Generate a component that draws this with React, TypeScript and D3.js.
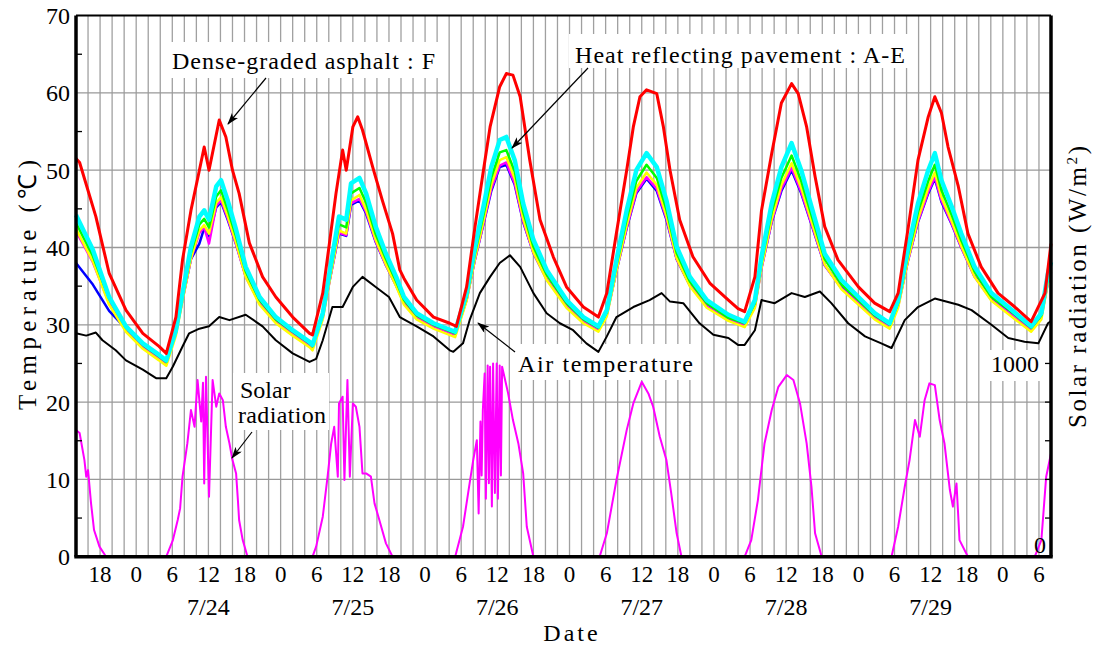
import React from "react";
import * as d3 from "d3";

const width = 1096;
const height = 645;
const plot = { left: 76, right: 1051, top: 15.6, bottom: 556.7 };

// hours counted from 7/23 0:00
const hourStart = 14;
const hourEnd = 176;
const hourTicks = [18, 24, 30, 36, 42, 48, 54, 60, 66, 72, 78, 84, 90, 96, 102, 108, 114, 120, 126, 132, 138, 144, 150, 156, 162, 168, 174];
const dayNoons = [36, 60, 84, 108, 132, 156];
const dayLabels = ["7/24", "7/25", "7/26", "7/27", "7/28", "7/29"];
const tempTicks = [0, 10, 20, 30, 40, 50, 60, 70];
const tempMinor = [5, 15, 25, 35, 45, 55, 65];
const solarTicks = [200, 400, 600, 800, 1000];

// Dense-graded asphalt : F  [hour, degC]
const asphaltF: [number, number][] = [
  [14, 51.5], [14.6, 51.0], [17.3, 44], [19.5, 36.7], [22.3, 31.9], [25.1, 28.9], [27.8, 27.2], [29, 26.3],
  [30.6, 31], [31.7, 38.4], [33.1, 44.8], [34.5, 50], [35.3, 53], [36.1, 50], [37.8, 56.5], [38.9, 54.3],
  [40, 50], [41.1, 47], [42.8, 40.6], [45, 36.2], [47.2, 33.6], [50, 31], [52.8, 28.9], [53.3, 28.7],
  [55, 34.1], [56.1, 40.5], [57.2, 47], [58.3, 52.6], [58.9, 50], [60, 55.6], [60.8, 56.9], [61.6, 55.2],
  [63.3, 50.4], [64.9, 46.1], [66.6, 41.8], [67.8, 37.1], [68.5, 36], [70.6, 33.2], [73.4, 31], [76.1, 30.2],
  [77.2, 29.8], [78.9, 34.9], [80.3, 42.7], [81.7, 50], [82.8, 55.6], [84.4, 60.8], [85.5, 62.5], [86.6, 62.3],
  [87.8, 59.5], [89.4, 51.3], [91.1, 43.6], [93.3, 38.8], [95.5, 34.9], [98.3, 32.3], [100.8, 31], [102.2, 34.1],
  [103.8, 41.9], [105.5, 50], [106.6, 55.6], [107.7, 59.5], [108.8, 60.4], [110.5, 59.9], [111.6, 55.6], [112.7, 50],
  [114.3, 43.6], [116.5, 38.8], [119.3, 35.4], [122.4, 33.2], [124, 32.1], [125.1, 31.7], [126.8, 36.2], [127.9, 44.8],
  [129.6, 52.2], [131.2, 58.7], [132.9, 61.2], [134, 59.9], [135.4, 55.6], [136.8, 49.2], [138.4, 42.7], [140.6, 38.4],
  [144, 34.9], [146.7, 32.8], [149.2, 31.7], [150.6, 34.1], [152.3, 42.7], [153.9, 51.3], [155.6, 56.9], [156.7, 59.5],
  [157.8, 57.4], [158.9, 53], [160.6, 47.9], [162.2, 41.8], [164.4, 37.5], [167.2, 34.1], [170, 32.3], [172.7, 30.4],
  [175, 34.1], [176, 40.5],
];

// Heat reflecting pavement : A-E, shared hours
const bandHours = [
  14, 16.8, 19.5, 22.3, 25.1, 27.8, 29, 30.6, 31.7, 33.1, 34.5, 35.3, 36.1, 37.3, 38.1, 39.2, 40.6, 42.2, 44.5, 47.2,
  50, 52.8, 53.3, 55, 56.1, 57.7, 58.9, 59.7, 61.1, 62.2, 63.8, 65.5, 67.2, 68.5, 70.6, 73.4, 77, 78.9, 80.3, 81.7,
  83, 84.4, 85.5, 86.9, 88.3, 90, 92.2, 95.5, 98.3, 100.8, 102.2, 103.8, 105.5, 107.1, 108.8, 110.5, 112.1, 113.8, 116, 118.8,
  122.4, 125.1, 126.8, 127.9, 129.6, 131.2, 132.9, 134.5, 136.2, 138.4, 141.2, 144, 146.7, 149.2, 150.6, 152.3, 153.9, 155.6, 156.7, 157.8,
  159.5, 161.1, 163.3, 166.1, 168.9, 172.7, 174.4, 175.5, 176,
];
const bandCyan = [
  44.2, 39.7, 33.6, 29.8, 27.6, 26.1, 25.4, 29.3, 34.1, 40.1, 44, 44.8, 43.6, 47.9, 48.7, 46.1, 42.3, 37.5, 33.6, 31,
  29.3, 27.8, 27.4, 31.5, 36.7, 44, 43.6, 48.3, 49, 47, 42.7, 39.2, 36.2, 33.6, 31.5, 30.2, 29.1, 34.1, 40.1, 45.3,
  50.4, 53.9, 54.3, 51.3, 45.7, 41, 37.1, 33.2, 31, 29.8, 31.9, 38.4, 44.8, 50, 52.2, 50.4, 46.1, 40.1, 36.2, 33.2,
  31.3, 30.4, 33.2, 38.8, 45.7, 50.4, 53.5, 50, 45.3, 39.2, 35.8, 33.6, 31.5, 30.2, 33.2, 40.1, 45.7, 50, 52.2, 48.7,
  45.3, 41.8, 37.5, 34.1, 32.3, 29.8, 31.5, 36.7, 38.1,
];
const bandGreen = [
  43.2, 38.9, 33.4, 29.6, 27.4, 25.9, 25.2, 29.1, 33.6, 39.3, 43.0, 43.7, 42.6, 46.6, 47.4, 44.9, 41.4, 36.9, 33.2, 30.7,
  29.1, 27.6, 27.2, 31.2, 36.1, 43.0, 42.6, 47.0, 47.7, 45.8, 41.7, 38.5, 35.6, 33.2, 31.2, 30.0, 28.9, 33.6, 39.3, 44.2,
  49.0, 52.3, 52.6, 49.8, 44.6, 40.1, 36.5, 32.8, 30.7, 29.6, 31.6, 37.7, 43.7, 48.6, 50.7, 49.0, 44.9, 39.3, 35.6, 32.8,
  30.9, 30.2, 32.8, 38.1, 44.6, 49.0, 51.9, 48.6, 44.2, 38.5, 35.2, 33.2, 31.2, 30.0, 32.8, 39.3, 44.6, 48.6, 50.7, 47.4,
  44.2, 40.9, 36.9, 33.6, 32.0, 29.6, 31.2, 36.1, 37.4,
];
const bandYellow = [
  42.4, 38.2, 32.6, 29.1, 26.9, 25.4, 24.7, 28.6, 33.1, 38.6, 42.2, 42.9, 41.8, 45.8, 46.5, 44.1, 40.6, 36.2, 32.6, 30.2,
  28.6, 27.1, 26.7, 30.7, 35.5, 42.2, 41.8, 46.1, 46.8, 44.9, 41.0, 37.8, 35.0, 32.6, 30.7, 29.5, 28.4, 33.1, 38.6, 43.4,
  48.1, 51.3, 51.7, 48.9, 43.7, 39.4, 35.8, 32.2, 30.2, 29.1, 31.1, 37.0, 42.9, 47.7, 49.7, 48.1, 44.1, 38.6, 35.0, 32.2,
  30.5, 29.7, 32.2, 37.4, 43.7, 48.1, 50.9, 47.7, 43.4, 37.8, 34.6, 32.6, 30.7, 29.5, 32.2, 38.6, 43.7, 47.7, 49.7, 46.5,
  43.4, 40.2, 36.2, 33.1, 31.4, 29.1, 30.7, 35.5, 36.8,
];
const bandMagenta = [
  42.1, 38.1, 32.8, 29.4, 27.2, 25.7, 25.0, 28.9, 33.2, 38.5, 41.9, 42.6, 40.5, 45.4, 46.1, 43.8, 40.4, 36.2, 32.8, 30.5,
  28.9, 27.4, 27.0, 30.9, 35.5, 41.9, 41.6, 45.7, 46.3, 44.6, 40.8, 37.7, 35.1, 32.8, 31.0, 29.8, 28.7, 33.2, 38.5, 43.1,
  47.6, 50.6, 51.0, 48.3, 43.4, 39.3, 35.9, 32.4, 30.5, 29.4, 31.3, 37.0, 42.6, 47.2, 49.1, 47.6, 43.8, 38.5, 35.1, 32.4,
  30.7, 30.0, 32.4, 37.3, 43.4, 47.6, 50.3, 47.2, 43.1, 37.7, 34.7, 32.8, 31.0, 29.8, 32.4, 38.5, 43.4, 47.2, 49.1, 46.1,
  43.1, 40.0, 36.2, 33.2, 31.6, 29.4, 31.0, 35.5, 36.7,
];
const bandBlue = [
  38.0, 35.2, 31.8, 29.5, 27.4, 25.9, 25.2, 29.1, 33.3, 38.5, 40.5, 42.5, 41.5, 45.2, 45.9, 43.6, 40.4, 36.3, 32.9, 30.7,
  29.1, 27.6, 27.2, 31.1, 35.6, 41.8, 41.5, 45.5, 46.1, 44.4, 40.7, 37.7, 35.1, 32.9, 31.2, 30.0, 28.9, 33.3, 38.5, 43.0,
  47.3, 50.4, 50.7, 48.1, 43.3, 39.3, 35.9, 32.6, 30.7, 29.6, 31.4, 37.0, 42.5, 47.0, 48.9, 47.3, 43.6, 38.5, 35.1, 32.6,
  30.9, 30.2, 32.6, 37.4, 43.3, 47.3, 50.0, 47.0, 43.0, 37.7, 34.8, 32.9, 31.2, 30.0, 32.6, 38.5, 43.3, 47.0, 48.9, 45.9,
  43.0, 40.0, 36.3, 33.3, 31.9, 29.6, 31.2, 35.6, 36.8,
];

// Air temperature [hour, degC]
const airTemp: [number, number][] = [
  [14, 28.9], [15.7, 28.6], [17.3, 29], [18.4, 28], [20.6, 26.7], [22.3, 25.4], [25.1, 24.2], [27.3, 23.1],
  [29, 23.1], [30.1, 24.6], [31.7, 27.2], [32.8, 28.9], [34.5, 29.5], [36.1, 29.8], [37.8, 31], [39.5, 30.6],
  [42.2, 31.3], [45, 29.8], [47.2, 28], [50, 26.3], [52.8, 25.2], [53.9, 25.6], [55, 28], [56.6, 32.3],
  [58.3, 32.3], [60, 34.9], [61.6, 36.2], [63.8, 34.9], [66, 33.6], [67.8, 31], [70.6, 29.8], [73.4, 28.5],
  [76.1, 26.7], [76.7, 26.5], [78.3, 27.6], [79.4, 30.6], [81.1, 34.1], [82.8, 36.2], [84.4, 38], [86.1, 39],
  [87.8, 37.5], [90, 34.1], [92.2, 31.5], [94.4, 30.2], [96.6, 29.3], [98.8, 27.6], [100.8, 26.5], [102.2, 28.5],
  [103.8, 31], [106.6, 32.3], [109.3, 33.2], [111.3, 34.1], [112.7, 33], [114.9, 32.8], [117.6, 30.2], [119.9, 28.7],
  [122.4, 28.3], [124, 27.4], [125.1, 27.4], [126.8, 29.3], [127.9, 33.2], [130.1, 32.8], [132.9, 34.1], [135.1, 33.6],
  [137.6, 34.3], [139.5, 32.8], [142.3, 30.2], [145.1, 28.5], [147.8, 27.6], [149.5, 27], [151.7, 30.6], [153.9, 32.3],
  [156.7, 33.4], [160.6, 32.6], [162.8, 31.9], [166.1, 30], [168.9, 28.3], [171.6, 27.8], [173.9, 27.6], [175.5, 30.2],
  [176, 30.5],
];

// Solar radiation [hour, W/m2]
const solar: [number, number][] = [
  [14, 655], [14.6, 640], [15.4, 500], [15.7, 414], [16, 448], [16.5, 276], [17, 138], [17.9, 52], [19, 0],
  [29, 0], [30.1, 86], [30.9, 190], [31.3, 250], [31.7, 414], [32.5, 586], [33.1, 759], [33.7, 672], [34.2, 914],
  [34.8, 700], [35.1, 900], [35.3, 379], [35.6, 931], [36.1, 310], [36.7, 914], [37.3, 776], [37.8, 845], [38.4, 810],
  [38.9, 672], [39.5, 586], [40, 500], [40.6, 431], [40.9, 293], [41.1, 190], [41.7, 86], [42.5, 0],
  [53.3, 0], [53.9, 52], [55, 207], [55.8, 414], [56.4, 586], [56.9, 672], [57.5, 414], [57.7, 793], [58.3, 828],
  [58.6, 397], [59.1, 914], [59.5, 414], [60, 793], [60.5, 776], [61.1, 672], [61.6, 431], [62.2, 431], [63, 414],
  [63.6, 276], [64.4, 190], [65.5, 69], [66.6, 0],
  [77, 0], [78.3, 155], [79.4, 379], [80, 500], [80.6, 603], [80.9, 224], [81.2, 700], [81.4, 420], [81.6, 759],
  [81.9, 948], [82.1, 300], [82.4, 990], [82.6, 380], [82.8, 983], [83.1, 260], [83.3, 1000], [83.6, 330], [83.9, 1000],
  [84.1, 300], [84.4, 990], [84.6, 420], [84.8, 983], [85.3, 914], [85.8, 845], [86.6, 707], [87.5, 586], [88.3, 431],
  [88.9, 155], [90, 0],
  [101, 0], [102.2, 121], [103.8, 397], [105.5, 655], [106.6, 793], [108, 905], [109.1, 845], [109.9, 776], [111, 621],
  [112.1, 500], [112.9, 328], [113.8, 121], [114.6, 0],
  [125.1, 0], [126.2, 86], [127.3, 293], [128.4, 586], [129.6, 759], [130.7, 879], [132.1, 940], [133.2, 914], [134.3, 793],
  [135.4, 586], [136.2, 362], [136.8, 121], [137.9, 0],
  [149.5, 0], [150.6, 155], [151.7, 362], [152.5, 500], [153.4, 707], [154.2, 621], [155, 810], [155.8, 897], [156.7, 888],
  [157.5, 707], [158.3, 586], [159.2, 345], [159.7, 259], [160.3, 379], [160.8, 86], [162.2, 0],
  [173.3, 0], [174.4, 86], [175.2, 414], [176, 534],
];

const serif = "'Liberation Serif', 'Times New Roman', serif";

const App = () => {
  const x = d3.scaleLinear().domain([hourStart, hourEnd]).range([plot.left, plot.right]);
  const y = d3.scaleLinear().domain([0, 70]).range([plot.bottom, plot.top]);
  const ySolar = d3.scaleLinear().domain([0, 2800]).range([plot.bottom, plot.top]);

  const tempLine = d3.line<[number, number]>().x((d) => x(d[0])).y((d) => y(d[1]));
  const solarLine = d3.line<[number, number]>().x((d) => x(d[0])).y((d) => ySolar(d[1]));
  const band = (vals: number[]) => bandHours.map((h, i) => [h, vals[i]] as [number, number]);

  const gridHours = d3.range(hourStart + 2, hourEnd, 2);

  const bandSeries = [
    { vals: bandBlue, color: "#0000ff", w: 2.5 },
    { vals: bandMagenta, color: "#ff00ff", w: 2.5 },
    { vals: bandYellow, color: "#ffff00", w: 2.5 },
    { vals: bandGreen, color: "#00ff00", w: 2.5 },
    { vals: bandCyan, color: "#00ffff", w: 4.5 },
  ];

  const txt = { fontFamily: serif, fill: "#000" };

  return (
    <svg width={width} height={height} viewBox={`0 0 ${width} ${height}`}
      style={{ position: "absolute", left: 0, top: 0, background: "#fff" }}>
      <defs>
        <marker id="arrow" viewBox="0 0 12 8" refX="11" refY="4" markerWidth="12" markerHeight="8"
          markerUnits="userSpaceOnUse" orient="auto">
          <path d="M0,0 L12,4 L0,8 L3,4 Z" fill="#000" />
        </marker>
      </defs>
      <rect x={0} y={0} width={width} height={height} fill="#fff" />

      {/* grid */}
      <g className="grid">
        {gridHours.map((h) => (
          <line key={`v${h}`} x1={x(h)} x2={x(h)} y1={plot.top} y2={plot.bottom} stroke="#a0a0a0" strokeWidth={1.3} />
        ))}
        {tempTicks.slice(1, -1).map((t) => (
          <line key={`h${t}`} x1={plot.left} x2={plot.right} y1={y(t)} y2={y(t)} stroke="#999" strokeWidth={1.3} />
        ))}
      </g>

      {/* white label boxes */}
      <g className="label-boxes" fill="#fff">
        <rect x={168} y={42} width={274} height={36} />
        <rect x={569} y={34} width={342} height={34} />
        <rect x={512} y={344} width={186} height={36} />
        <rect x={233} y={373} width={96} height={57} />
        <rect x={987} y={350} width={54} height={31} />
      </g>

      {/* series */}
      <g fill="none" strokeLinejoin="round">
        {bandSeries.map((s) => (
          <path key={s.color} d={tempLine(band(s.vals)) ?? ""} stroke={s.color} strokeWidth={s.w} />
        ))}
        <path d={tempLine(asphaltF) ?? ""} stroke="#ff0000" strokeWidth={3} />
        <path d={tempLine(airTemp) ?? ""} stroke="#000" strokeWidth={2} />
        <path d={solarLine(solar) ?? ""} stroke="#ff00ff" strokeWidth={2} />
      </g>

      {/* frame */}
      <g fill="none" stroke="#000">
        <line x1={plot.left} x2={plot.right} y1={plot.top} y2={plot.top} strokeWidth={2} />
        <line x1={plot.left} x2={plot.left} y1={plot.top} y2={plot.bottom} strokeWidth={3.5} />
        <line x1={plot.right} x2={plot.right} y1={plot.top} y2={plot.bottom} strokeWidth={3.5} />
        <line x1={plot.left - 1.7} x2={plot.right + 1.7} y1={plot.bottom} y2={plot.bottom} strokeWidth={3.5} />
        {tempMinor.map((t) => (
          <line key={`m${t}`} x1={plot.left} x2={plot.left + 6} y1={y(t)} y2={y(t)} strokeWidth={1.3} />
        ))}
        {solarTicks.map((s) => (
          <line key={`s${s}`} x1={plot.right - 6} x2={plot.right} y1={ySolar(s)} y2={ySolar(s)} strokeWidth={1.3} />
        ))}
      </g>

      {/* left axis labels */}
      <g {...txt} fontSize={24} textAnchor="end">
        {tempTicks.map((t) => (
          <text key={t} x={plot.left - 6} y={y(t)} dy="0.35em">{t}</text>
        ))}
      </g>

      {/* right axis labels */}
      <g {...txt} fontSize={24} textAnchor="end">
        <text x={1039} y={ySolar(1000)} dy="0.35em">1000</text>
        <text x={1046} y={ySolar(0) - 4}>0</text>
      </g>

      {/* bottom axis labels */}
      <g {...txt} fontSize={23} textAnchor="middle">
        {hourTicks.map((h) => (
          <text key={h} x={x(h)} y={582}>{h % 24}</text>
        ))}
      </g>
      <g {...txt} fontSize={24} textAnchor="middle">
        {dayNoons.map((h, i) => (
          <text key={h} x={x(h)} y={615}>{dayLabels[i]}</text>
        ))}
      </g>
      <text {...txt} fontSize={24} x={572} y={641} textAnchor="middle" letterSpacing={3}>Date</text>

      {/* axis titles */}
      <text {...txt} fontSize={25} textAnchor="middle" transform="translate(36,285) rotate(-90)"
        textLength={250} lengthAdjust="spacing">
        Temperature  (℃)
      </text>
      <text {...txt} fontSize={25} textAnchor="middle" transform="translate(1086,287) rotate(-90)"
        textLength={282} lengthAdjust="spacing">
        Solar radiation  (W/m<tspan dy={-9} fontSize={15}>2</tspan><tspan dy={9}>)</tspan>
      </text>

      {/* annotations */}
      <g {...txt} fontSize={24}>
        <text x={172} y={69} textLength={263} lengthAdjust="spacing">Dense-graded asphalt : F</text>
        <text x={575} y={63} textLength={330} lengthAdjust="spacing">Heat reflecting pavement : A-E</text>
        <text x={518} y={372} textLength={175} lengthAdjust="spacing">Air temperature</text>
        <text x={240} y={398}>Solar</text>
        <text x={238} y={423} textLength={88} lengthAdjust="spacing">radiation</text>
      </g>
      <g stroke="#000" strokeWidth={1.2} markerEnd="url(#arrow)">
        <line x1={266} y1={78} x2={228} y2={124} />
        <line x1={588} y1={68} x2={512} y2={148} />
        <line x1={515} y1={352} x2={478} y2={323} />
        <line x1={252} y1={432} x2={232} y2={458} />
      </g>
    </svg>
  );
};

export default App;
